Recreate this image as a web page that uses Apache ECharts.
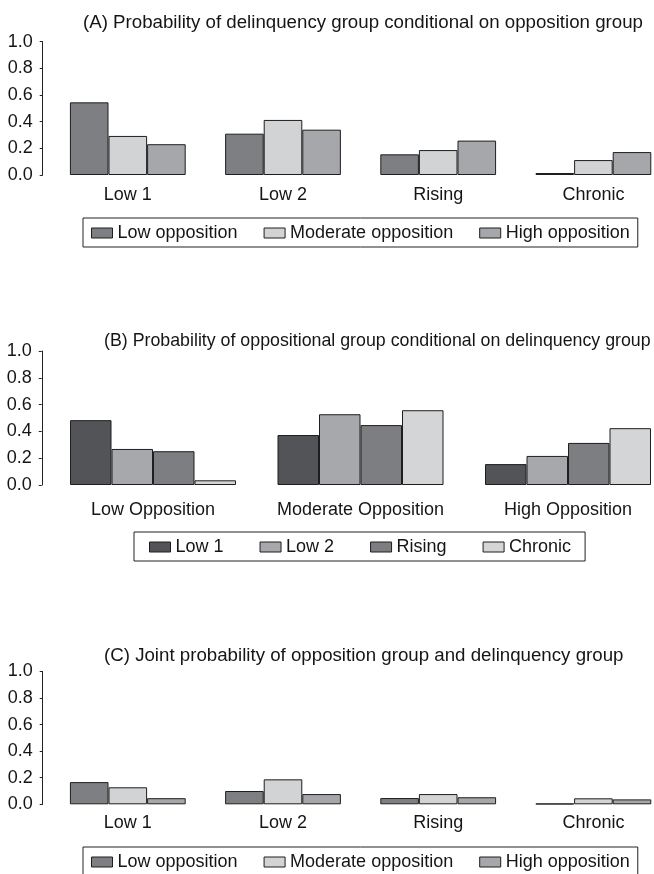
<!DOCTYPE html>
<html>
<head>
<meta charset="utf-8">
<script src="https://cdn.jsdelivr.net/npm/echarts@6/dist/echarts.min.js"></script>
<style>
html,body{margin:0;padding:0;background:#fff;}
#chart{width:654px;height:874px;}
</style>
</head>
<body>
<div id="chart"></div>
<script>
// ---- Data ----
const catsA = ['Low 1', 'Low 2', 'Rising', 'Chronic'];
const lowOppA = [0.545, 0.31, 0.155, 0.015];
const modOppA = [0.293, 0.413, 0.187, 0.112];
const highOppA = [0.231, 0.34, 0.258, 0.172];

const catsB = ['Low Opposition', 'Moderate Opposition', 'High Opposition'];
const low1B = [0.484, 0.373, 0.156];
const low2B = [0.269, 0.528, 0.217];
const risingB = [0.252, 0.447, 0.314];
const chronicB = [0.035, 0.558, 0.424];

const catsC = ['Low 1', 'Low 2', 'Rising', 'Chronic'];
const lowOppC = [0.167, 0.10, 0.047, 0.005];
const modOppC = [0.128, 0.188, 0.077, 0.045];
const highOppC = [0.046, 0.077, 0.053, 0.037];

const yTicks = [0, 0.2, 0.4, 0.6, 0.8, 1.0];

const oppNames = ['Low opposition', 'Moderate opposition', 'High opposition'];
const delNames = ['Low 1', 'Low 2', 'Rising', 'Chronic'];

// ---- Styles ----
const FONT = 'Liberation Sans, Arial, Helvetica, sans-serif';
const TXT = '#151515';
const FS = 18;
const oppColors = ['#7e7f83', '#d2d3d5', '#a6a7aa'];
const delColors = ['#535457', '#a7a8ab', '#7d7e82', '#d4d5d7'];
const border = {borderColor: '#1e1e1e', borderWidth: 1};

function yAxis(gi) {
  return {
    gridIndex: gi, type: 'value', min: 0, max: 1, interval: 0.2, offset: 7.5,
    axisLine: {show: true, lineStyle: {color: '#222', width: 1}},
    axisTick: {show: true, length: 3, lineStyle: {color: '#222', width: 1}},
    splitLine: {show: false},
    axisLabel: {formatter: v => v.toFixed(1), fontSize: FS, fontFamily: FONT, color: TXT, margin: 10}
  };
}
function xAxis(gi, cats, margin) {
  return {
    gridIndex: gi, type: 'category', data: cats,
    axisLine: {show: false}, axisTick: {show: false},
    axisLabel: {fontSize: FS, fontFamily: FONT, color: TXT, margin: margin, interval: 0}
  };
}
function bar(name, data, color, gi, gap) {
  return {
    type: 'bar', name: name, data: data, xAxisIndex: gi, yAxisIndex: gi,
    barGap: '0%', barCategoryGap: gap,
    itemStyle: Object.assign({color: color}, border),
    emphasis: {disabled: true}, animation: false
  };
}
function legend(names, left, top, gap, pad) {
  return {
    data: names, left: left, top: top, orient: 'horizontal', icon: 'rect',
    itemWidth: 21, itemHeight: 10, itemGap: gap, padding: pad,
    borderColor: '#222', borderWidth: 1,
    itemStyle: {borderColor: '#1e1e1e', borderWidth: 1},
    textStyle: {fontSize: FS, fontFamily: FONT, color: TXT},
    selectedMode: false
  };
}
function title(text, left, top, fs) {
  return {text: text, left: left, top: top, padding: 0,
    textStyle: {fontSize: fs, fontWeight: 'normal', fontFamily: FONT, color: TXT}};
}
function grid(left, right, top, height) {
  return {left: left, right: right, top: top, height: height,
    containLabel: false, outerBoundsMode: 'none'};
}

const option = {
  backgroundColor: '#fff',
  animation: false,
  title: [
    title('(A) Probability of delinquency group conditional on opposition group', 83, 13, 18.7),
    title('(B) Probability of oppositional group conditional on delinquency group', 104, 332, 17.8),
    title('(C) Joint probability of opposition group and delinquency group', 104, 646, 18.7)
  ],
  legend: [
    legend(oppNames, 83, 218, 26, [6, 8, 5, 8]),
    legend(delNames, 134, 532, 36, [6, 14, 5, 15]),
    legend(oppNames, 83, 847, 26, [6, 8, 5, 8])
  ],
  grid: [
    grid(50.2, -17, 41.7, 133.3),
    grid(49.25, -17.75, 351, 134),
    grid(50.2, -17, 671.5, 132.8)
  ],
  xAxis: [xAxis(0, catsA, 11), xAxis(1, catsB, 16), xAxis(2, catsC, 10)],
  yAxis: [yAxis(0), yAxis(1), yAxis(2)],
  series: [
    bar(oppNames[0], lowOppA, oppColors[0], 0, '25.4%'),
    bar(oppNames[1], modOppA, oppColors[1], 0, '25.4%'),
    bar(oppNames[2], highOppA, oppColors[2], 0, '25.4%'),
    bar(delNames[0], low1B, delColors[0], 1, '20%'),
    bar(delNames[1], low2B, delColors[1], 1, '20%'),
    bar(delNames[2], risingB, delColors[2], 1, '20%'),
    bar(delNames[3], chronicB, delColors[3], 1, '20%'),
    bar(oppNames[0], lowOppC, oppColors[0], 2, '25.4%'),
    bar(oppNames[1], modOppC, oppColors[1], 2, '25.4%'),
    bar(oppNames[2], highOppC, oppColors[2], 2, '25.4%')
  ]
};
const chart = echarts.init(document.getElementById('chart'), null, {renderer: 'canvas'});
chart.setOption(option);
</script>
</body>
</html>
